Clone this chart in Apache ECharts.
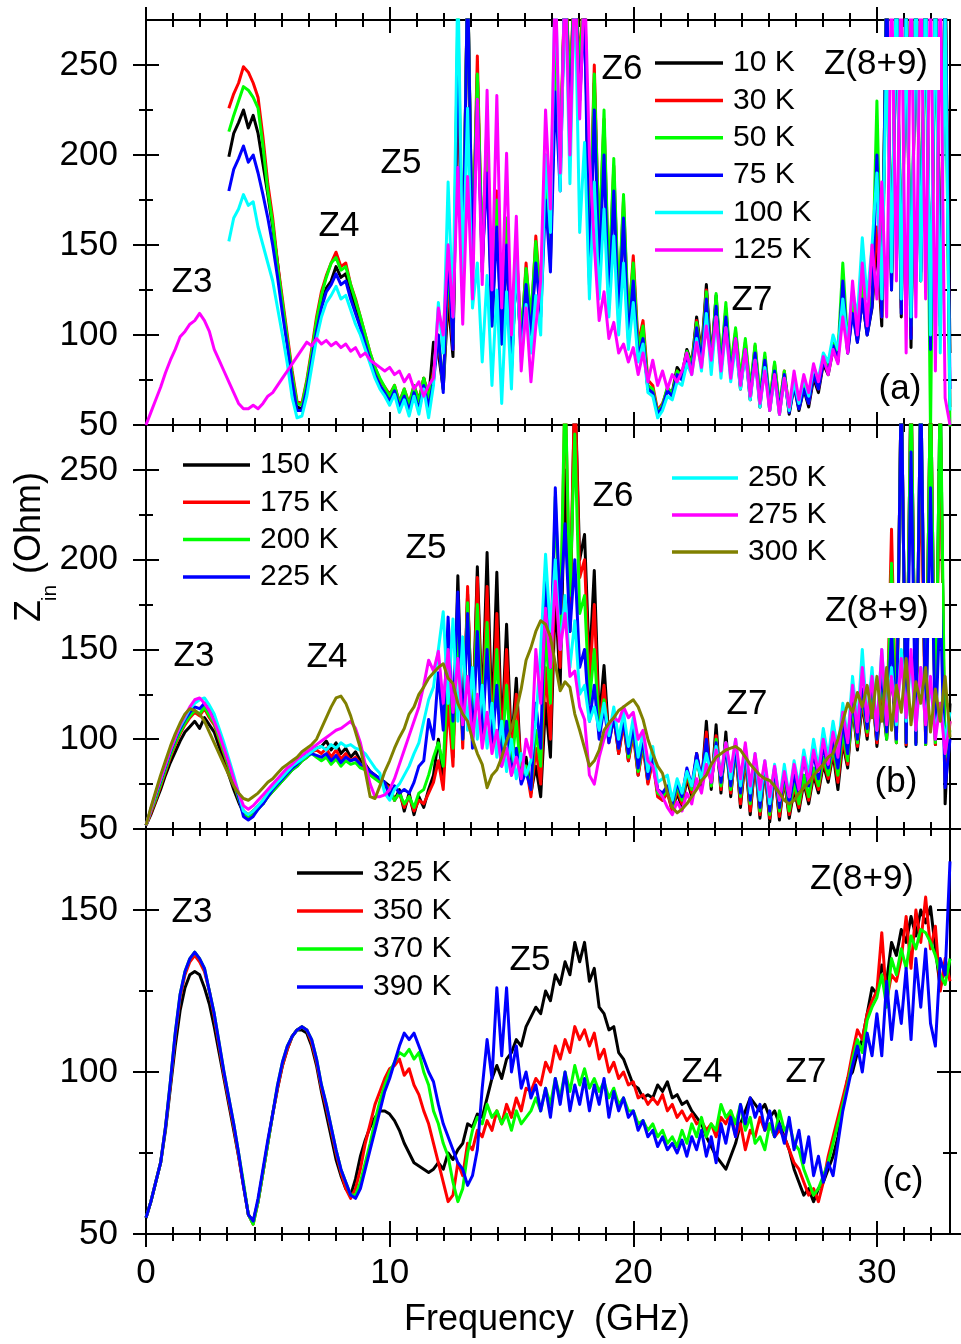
<!DOCTYPE html>
<html>
<head>
<meta charset="utf-8">
<script src="https://cdn.jsdelivr.net/npm/echarts@6/dist/echarts.min.js"></script>
<style>
  html, body { margin: 0; padding: 0; background: #ffffff; }
  #chart { width: 961px; height: 1344px; }
</style>
</head>
<body>
<div id="chart"></div>
<script>
// Input impedance Z_in (Ohm) versus frequency (GHz) at several temperatures.

// Frequency sampling (GHz), shared by every curve
const FREQ = [
  0,0.2,0.4,0.6,0.8,1,1.2,1.4,1.6,1.8,
  2,2.2,2.4,2.6,2.8,3,3.2,3.4,3.6,3.8,
  4,4.2,4.4,4.6,4.8,5,5.2,5.4,5.6,5.8,
  6,6.2,6.4,6.6,6.8,7,7.2,7.4,7.6,7.8,
  8,8.2,8.4,8.6,8.8,9,9.2,9.4,9.6,9.8,
  10,10.2,10.4,10.6,10.8,11,11.2,11.4,11.6,11.8,
  12,12.2,12.4,12.6,12.8,13,13.2,13.4,13.6,13.8,
  14,14.2,14.4,14.6,14.8,15,15.2,15.4,15.6,15.8,
  16,16.2,16.4,16.6,16.8,17,17.2,17.4,17.6,17.8,
  18,18.2,18.4,18.6,18.8,19,19.2,19.4,19.6,19.8,
  20,20.2,20.4,20.6,20.8,21,21.2,21.4,21.6,21.8,
  22,22.2,22.4,22.6,22.8,23,23.2,23.4,23.6,23.8,
  24,24.2,24.4,24.6,24.8,25,25.2,25.4,25.6,25.8,
  26,26.2,26.4,26.6,26.8,27,27.2,27.4,27.6,27.8,
  28,28.2,28.4,28.6,28.8,29,29.2,29.4,29.6,29.8,
  30,30.2,30.4,30.6,30.8,31,31.2,31.4,31.6,31.8,
  32,32.2,32.4,32.6,32.8,33
];

// ---- Panel (a): 10 K ... 125 K ----
const Z_10K = [
  null,null,null,null,null,null,null,null,null,null,
  null,null,null,null,null,null,null,199,212,218,
  225,215,222,212,195,178,160,140,116,96,
  76,60,59,70,88,104,118,126,130,138,
  132,134,124,116,106,96,86,78,72,67,
  64,70,61,68,60,70,62,76,64,96,
  90,70,120,88,250,125,300,135,245,135,
  210,105,170,95,150,80,140,90,130,100,
  145,115,190,140,255,190,300,230,300,240,
  300,132,240,140,210,118,185,110,165,100,
  135,90,100,70,68,56,60,70,68,82,
  78,92,84,110,90,128,86,122,80,112,
  78,98,70,92,64,90,60,86,58,80,
  56,78,56,72,58,70,60,76,68,84,
  78,92,85,126,90,115,96,120,100,115,
  150,105,290,125,300,110,300,93,300,130,
  300,89,300,110,300,90
];
const Z_30K = [
  null,null,null,null,null,null,null,null,null,null,
  null,null,null,null,null,null,null,226,234,240,
  249,246,240,232,210,184,165,140,120,100,
  80,63,62,75,92,110,124,133,140,146,
  138,140,128,120,110,100,90,82,75,71,
  67,72,63,70,62,72,64,76,66,80,
  95,72,130,92,260,130,300,140,255,140,
  220,110,180,100,160,85,150,95,140,105,
  155,120,200,150,265,200,300,240,300,250,
  300,140,250,150,220,125,194,115,175,105,
  144,95,108,75,72,58,62,70,66,80,
  76,90,82,108,88,125,84,120,82,115,
  80,102,74,96,68,94,64,88,62,84,
  60,80,58,74,60,72,62,78,70,86,
  80,95,88,130,92,118,100,125,105,120,
  160,110,300,130,300,115,280,100,300,140,
  300,95,300,120,300,60
];
const Z_50K = [
  null,null,null,null,null,null,null,null,null,null,
  null,null,null,null,null,null,null,213,222,230,
  238,236,232,226,205,180,162,138,118,98,
  78,62,61,74,90,108,122,132,140,143,
  136,138,128,119,110,100,90,82,76,71,
  66,72,62,70,61,72,63,76,65,78,
  100,70,140,95,280,135,300,145,245,150,
  210,115,175,105,165,88,146,100,137,110,
  152,118,195,148,260,196,300,235,300,245,
  300,138,245,150,225,128,198,118,178,108,
  140,92,105,72,70,57,61,71,67,80,
  77,91,83,107,87,124,83,123,84,118,
  82,104,76,98,70,95,66,90,63,85,
  60,80,58,74,60,72,63,80,72,88,
  82,98,90,140,95,120,102,128,108,122,
  230,115,300,135,300,118,300,105,300,150,
  300,45,300,100,300,45
];
const Z_75K = [
  null,null,null,null,null,null,null,null,null,null,
  null,null,null,null,null,null,null,180,192,198,
  205,196,200,190,178,165,150,132,112,94,
  74,58,58,70,86,102,115,124,128,134,
  128,130,120,112,104,95,86,78,72,68,
  63,69,60,66,58,68,58,72,60,74,
  100,68,150,92,270,130,300,140,230,140,
  190,105,160,95,150,82,138,92,128,100,
  140,110,175,135,235,180,300,215,300,230,
  280,128,225,135,200,115,180,108,165,98,
  130,88,98,70,68,56,60,69,66,78,
  75,88,80,104,85,120,82,116,80,110,
  78,98,72,92,66,90,62,86,60,80,
  58,78,57,72,59,70,62,78,70,85,
  80,94,86,130,90,112,96,120,100,116,
  200,110,300,125,300,112,290,98,300,135,
  300,92,300,105,300,70
];
const Z_100K = [
  null,null,null,null,null,null,null,null,null,null,
  null,null,null,null,null,null,null,152,165,170,
  178,172,174,160,150,140,130,115,100,84,
  65,54,55,66,82,98,110,118,122,127,
  120,122,114,106,100,92,84,76,70,66,
  61,67,57,64,55,66,56,70,54,72,
  118,90,185,110,300,130,226,115,140,85,
  133,72,125,62,124,70,144,85,117,90,
  122,100,200,157,300,180,300,184,300,157,
  207,120,185,120,170,110,155,100,140,92,
  118,85,95,68,66,54,58,66,64,74,
  72,84,78,98,80,112,78,110,76,104,
  74,94,70,90,64,86,60,82,58,76,
  56,76,58,74,62,76,66,82,76,90,
  85,100,92,120,96,125,110,154,120,150,
  190,120,260,135,300,120,280,110,300,130,
  300,100,300,90,280,58
];
const Z_125K = [
  50,57,64,71,79,86,92,99,102,106,
  108,112,108,102,92,86,80,74,68,62,
  59,59,61,59,62,66,68,72,76,80,
  84,88,92,96,94,98,95,97,94,96,
  93,95,91,93,88,90,86,84,82,80,
  82,78,80,74,78,70,74,66,72,76,
  115,100,150,110,193,106,188,120,231,128,
  236,125,233,115,201,100,166,80,115,74,
  105,130,225,170,300,190,300,200,300,220,
  300,200,150,108,124,98,107,90,95,85,
  93,78,90,74,86,72,80,70,78,74,
  80,90,78,96,82,105,86,110,80,104,
  76,98,72,92,66,86,62,80,58,78,
  56,76,60,80,64,78,68,84,74,88,
  78,92,84,110,90,130,100,140,105,150,
  120,185,110,300,130,300,90,300,110,300,
  120,300,80,300,65,50
];

// ---- Panel (b): 150 K ... 300 K ----
const Z_150K = [
  52,58,65,72,80,87,93,99,104,107,
  110,106,112,108,104,96,88,80,72,65,
  59,57,60,62,64,68,71,74,77,80,
  83,85,88,90,93,95,96,99,94,98,
  92,95,90,93,88,86,82,80,78,76,
  74,66,72,60,70,58,68,62,72,80,
  100,78,140,90,191,100,181,105,196,115,
  204,110,193,100,164,95,134,80,90,70,
  85,68,120,90,180,130,250,160,300,200,
  214,140,194,110,141,100,114,92,110,88,
  105,80,98,76,90,70,66,72,60,70,
  62,78,68,92,74,110,72,108,70,104,
  68,96,62,90,58,88,56,84,54,82,
  55,78,56,72,60,76,64,80,70,86,
  76,92,72,98,84,118,94,120,100,130,
  96,125,100,140,98,300,96,300,98,300,
  97,300,97,300,64,120
];
const Z_175K = [
  52,59,66,74,82,90,97,103,108,112,
  115,113,117,112,108,100,92,84,75,67,
  60,58,60,63,66,70,73,76,79,82,
  84,87,89,91,93,94,92,95,90,94,
  89,92,88,90,86,84,81,79,77,75,
  73,66,70,62,68,60,66,64,70,76,
  88,72,120,85,170,95,185,100,190,108,
  185,100,170,95,150,88,125,80,85,68,
  95,75,140,100,200,140,300,170,300,190,
  200,130,175,105,130,98,112,92,108,88,
  102,80,96,75,88,68,66,70,60,72,
  64,80,70,92,76,104,74,102,72,98,
  70,94,64,90,60,88,58,84,56,82,
  57,78,58,74,62,78,66,82,72,88,
  78,94,76,100,86,120,96,122,102,128,
  98,130,102,217,98,300,97,300,98,260,
  97,300,97,280,80,110
];
const Z_200K = [
  52,60,67,75,83,91,98,104,109,113,
  116,114,118,113,109,101,93,85,76,67,
  59,56,58,61,64,68,71,74,77,80,
  83,85,88,90,92,90,88,90,86,89,
  85,88,86,87,84,83,80,78,76,74,
  72,66,70,64,68,62,70,72,80,90,
  98,85,140,95,160,100,176,105,175,110,
  165,100,150,90,130,85,110,78,85,72,
  105,85,160,120,235,160,300,180,270,170,
  180,120,150,105,122,100,115,95,112,90,
  105,82,98,78,90,70,68,72,62,74,
  66,82,72,90,76,98,74,100,74,96,
  72,94,68,92,64,90,60,86,58,84,
  60,80,60,76,64,80,68,84,74,90,
  80,96,80,104,88,120,98,125,104,130,
  100,135,100,198,98,300,98,300,97,300,
  97,300,98,300,90,105
];
const Z_225K = [
  52,61,69,77,85,93,100,106,111,115,
  118,117,120,116,112,104,96,87,78,68,
  57,55,57,61,64,68,72,75,78,81,
  84,86,89,91,92,91,90,92,88,91,
  87,90,88,89,86,85,82,80,78,76,
  68,74,70,72,70,76,85,88,111,100,
  137,105,168,110,182,100,170,95,160,100,
  150,95,130,85,110,80,95,75,82,72,
  120,95,190,140,240,170,220,160,200,140,
  150,110,130,100,118,98,112,95,110,92,
  106,84,100,78,92,72,70,74,64,76,
  68,84,74,92,78,100,76,98,76,96,
  74,95,70,94,66,90,62,86,60,84,
  62,82,64,80,70,90,74,92,78,96,
  84,100,84,110,92,125,100,128,106,135,
  100,140,104,160,100,300,98,260,97,300,
  98,240,100,180,73,100
];
const Z_250K = [
  52,61,70,78,86,94,101,107,112,117,
  120,122,123,119,114,106,98,89,80,70,
  60,58,60,63,66,70,73,76,79,82,
  85,87,89,91,93,95,96,94,97,95,
  98,96,97,95,94,92,88,84,81,70,
  66,72,75,80,85,92,98,110,122,129,
  150,171,120,167,110,157,105,140,100,130,
  95,120,90,110,82,100,78,92,80,88,
  110,150,203,160,200,150,180,140,166,125,
  130,110,118,105,120,102,118,100,115,96,
  112,90,104,82,96,76,78,80,66,78,
  70,82,74,88,78,92,80,96,80,98,
  78,100,74,96,70,92,66,88,64,86,
  66,86,68,88,74,94,80,100,84,106,
  90,110,94,120,100,135,108,150,110,140,
  105,150,110,140,108,150,110,145,105,140,
  110,130,105,120,100,115
];
const Z_275K = [
  52,61,70,78,86,94,101,108,113,118,
  122,123,120,116,110,103,95,87,78,70,
  63,61,63,66,69,72,75,78,81,84,
  86,89,91,93,95,97,99,101,103,105,
  106,108,110,106,98,86,75,68,68,69,
  72,78,86,94,102,110,118,130,144,138,
  149,120,150,115,145,108,135,100,125,95,
  115,92,105,85,95,80,90,78,100,90,
  150,120,173,140,188,150,170,135,138,118,
  111,80,75,90,100,108,112,110,118,112,
  115,100,105,88,85,72,68,62,58,65,
  60,70,64,78,70,86,76,94,80,98,
  82,100,78,98,74,92,72,88,68,85,
  66,82,68,86,72,90,76,94,82,100,
  86,104,90,115,98,130,104,140,110,135,
  105,150,108,135,110,145,112,150,105,140,
  108,135,100,120,92,110
];
const Z_300K = [
  52,62,71,80,88,96,103,109,114,117,
  116,114,110,104,98,92,86,80,74,70,
  67,66,68,70,73,76,78,81,84,86,
  88,90,93,95,97,100,106,112,118,123,
  124,120,113,104,95,82,68,67,74,82,
  88,95,101,106,114,118,125,129,134,137,
  140,142,134,131,120,114,110,100,92,86,
  73,80,83,90,99,106,116,128,144,151,
  160,166,164,157,142,127,132,129,114,105,
  95,85,88,94,105,109,112,116,118,120,
  122,118,111,100,92,85,81,70,62,59,
  61,64,68,72,77,80,86,90,92,94,
  95,96,94,90,86,83,80,78,77,74,
  70,66,64,66,70,73,76,80,83,86,
  90,92,100,110,120,115,126,118,130,112,
  135,110,140,105,130,115,145,108,132,120,
  140,104,128,110,135,101
];

// ---- Panel (c): 325 K ... 390 K ----
const Z_325K = [
  55,60,66,72,82,95,108,119,126,130,
  131,130,126,121,114,106,98,90,82,74,
  65,56,54,60,69,78,87,95,102,107,
  111,113,113,112,108,102,94,87,80,73,
  68,64,62,67,74,79,83,86,88,88,
  87,85,82,78,75,72,71,70,69,70,
  72,70,75,73,76,78,84,83,87,86,
  92,98,102,98,104,106,110,108,114,117,
  120,118,125,122,130,127,134,130,140,134,
  140,128,132,120,118,113,114,106,104,100,
  96,95,92,93,92,96,94,97,92,93,
  90,91,88,86,84,80,77,74,72,70,
  74,78,84,88,92,90,88,90,86,88,
  84,80,76,70,66,62,64,60,64,66,
  70,74,80,90,98,100,106,110,118,126,
  124,133,128,140,136,144,140,148,142,150,
  146,151,138,126,132,133
];
const Z_350K = [
  55,60,66,72,83,96,111,123,130,134,
  136,134,131,125,117,108,99,91,83,74,
  65,56,53,60,69,78,87,95,102,107,
  111,113,114,113,109,103,95,89,82,75,
  69,64,61,64,70,78,84,90,94,98,
  101,102,104,99,101,96,93,88,84,78,
  72,66,60,62,72,68,78,76,82,80,
  85,82,88,84,90,86,92,88,95,94,
  98,96,103,100,108,104,110,106,114,110,
  113,108,112,104,107,100,103,98,100,96,
  97,92,93,90,92,90,93,88,90,86,
  88,85,87,84,85,82,84,80,86,84,
  88,80,84,76,82,80,86,82,84,80,
  82,80,76,72,70,66,62,64,60,66,
  74,80,86,92,98,106,113,110,118,122,
  125,143,122,130,128,135,148,132,150,140,
  154,138,145,125,135,128
];
const Z_370K = [
  55,60,66,72,83,97,112,124,131,135,
  137,135,132,125,118,109,100,92,84,75,
  66,56,53,60,69,78,87,96,103,108,
  111,113,114,113,110,104,96,90,83,76,
  70,66,62,62,66,72,78,85,91,96,
  100,103,106,105,107,104,106,100,96,88,
  84,78,74,66,60,64,75,82,86,84,
  90,86,88,84,87,82,88,84,86,88,
  92,88,95,90,98,92,100,94,102,96,
  101,95,98,94,97,92,95,90,92,88,
  88,84,85,82,84,80,82,78,80,77,
  82,78,84,80,86,80,84,82,90,86,
  88,84,90,82,86,78,80,76,84,80,
  88,82,84,78,76,70,66,62,64,68,
  72,78,84,90,96,104,110,106,116,120,
  123,130,120,135,130,138,132,142,138,144,
  143,140,136,130,127,135
];
const Z_390K = [
  55,60,66,72,83,97,112,124,131,135,
  137,135,132,125,118,109,100,92,84,75,
  65,56,54,61,70,79,87,96,103,108,
  111,113,114,113,110,104,96,90,83,76,
  70,66,62,61,64,70,76,82,88,94,
  98,103,108,112,110,112,108,104,100,97,
  90,84,80,76,72,70,65,68,76,95,
  110,98,126,105,126,100,108,95,100,92,
  96,88,95,86,98,90,100,88,96,90,
  98,88,96,90,98,86,94,88,92,86,
  88,82,85,80,82,77,80,76,78,75,
  79,74,80,76,82,74,80,72,84,78,
  86,80,90,84,92,86,90,82,88,80,
  84,78,86,76,82,72,80,68,74,66,
  72,68,78,88,95,102,108,100,112,105,
  118,105,128,110,125,115,132,110,135,120,
  138,115,108,135,130,165
];

// Legend labels and colours per panel
const TEMPS_A = ['10 K', '30 K', '50 K', '75 K', '100 K', '125 K'];
const TEMPS_B = ['150 K', '175 K', '200 K', '225 K', '250 K', '275 K', '300 K'];
const TEMPS_C = ['325 K', '350 K', '370 K', '390 K'];
const COLORS_A = ['#000000', '#ff0000', '#00ff00', '#0000ff', '#00ffff', '#ff00ff'];
const COLORS_B = ['#000000', '#ff0000', '#00ff00', '#0000ff', '#00ffff', '#ff00ff', '#808000'];
const COLORS_C = ['#000000', '#ff0000', '#00ff00', '#0000ff'];

// Axis ticks and labels
const X_TICKS = [0, 10, 20, 30];
const Y_TICKS_AB = [50, 100, 150, 200, 250];
const Y_MINOR_AB = [75, 125, 175, 225];
const Y_TICKS_C = [50, 100, 150];
const Y_MINOR_C = [75, 125];
// nine minor divisions between labelled frequency ticks
const X_MINOR = [];
for (let k = 1; k * 10 / 9 < 33; k++) { if (k % 9 !== 0) X_MINOR.push(+(k * 10 / 9).toFixed(4)); }

const FONT = "'Liberation Sans', Arial, Helvetica, sans-serif";

const PANELS = [
  { top: 20,  height: 405, yMax: 275, yTicks: Y_TICKS_AB, yMinor: Y_MINOR_AB,
    names: TEMPS_A, colors: COLORS_A, values: [Z_10K, Z_30K, Z_50K, Z_75K, Z_100K, Z_125K], xLabels: false },
  { top: 425, height: 404, yMax: 275, yTicks: Y_TICKS_AB, yMinor: Y_MINOR_AB,
    names: TEMPS_B, colors: COLORS_B, values: [Z_150K, Z_175K, Z_200K, Z_225K, Z_250K, Z_275K, Z_300K], xLabels: false },
  { top: 829, height: 405, yMax: 175, yTicks: Y_TICKS_C, yMinor: Y_MINOR_C,
    names: TEMPS_C, colors: COLORS_C, values: [Z_325K, Z_350K, Z_370K, Z_390K], xLabels: true }
];

const AXES_PER_GRID = 5;
const labelStyle = { fontSize: 35, fontFamily: FONT, color: '#000' };

// An axis that only draws ticks, shifted so each tick straddles the frame line
function tickAxis(gi, position, values, half, min, max) {
  return {
    type: 'value', gridIndex: gi, position: position, offset: -half, min: min, max: max,
    axisLine: { show: false, onZero: false }, splitLine: { show: false }, axisLabel: { show: false },
    axisTick: { show: true, inside: false, length: half * 2, customValues: values,
                lineStyle: { color: '#000', width: 2 } }
  };
}

const grids = [], xAxes = [], yAxes = [], series = [];
PANELS.forEach((p, gi) => {
  grids.push({ left: 146, width: 804, top: p.top, height: p.height, show: true,
               borderColor: '#000', borderWidth: 2, backgroundColor: 'transparent' });
  xAxes.push({
    type: 'value', gridIndex: gi, position: 'bottom', min: 0, max: 33,
    axisLine: { show: false, onZero: false }, axisTick: { show: false }, splitLine: { show: false },
    axisLabel: Object.assign({ show: p.xLabels, customValues: X_TICKS, margin: 22 }, labelStyle)
  });
  xAxes.push(tickAxis(gi, 'bottom', X_TICKS, 13, 0, 33));
  xAxes.push(tickAxis(gi, 'bottom', X_MINOR, 7, 0, 33));
  xAxes.push(tickAxis(gi, 'top', X_TICKS, 13, 0, 33));
  xAxes.push(tickAxis(gi, 'top', X_MINOR, 7, 0, 33));

  yAxes.push({
    type: 'value', gridIndex: gi, position: 'left', min: 50, max: p.yMax,
    axisLine: { show: false, onZero: false }, axisTick: { show: false }, splitLine: { show: false },
    axisLabel: Object.assign({ show: true, customValues: p.yTicks, margin: 28 }, labelStyle)
  });
  yAxes.push(tickAxis(gi, 'left', p.yTicks, 13, 50, p.yMax));
  yAxes.push(tickAxis(gi, 'left', p.yMinor, 7, 50, p.yMax));
  yAxes.push(tickAxis(gi, 'right', p.yTicks, 13, 50, p.yMax));
  yAxes.push(tickAxis(gi, 'right', p.yMinor, 7, 50, p.yMax));

  p.values.forEach((vals, si) => {
    series.push({
      type: 'line', name: p.names[si],
      xAxisIndex: gi * AXES_PER_GRID, yAxisIndex: gi * AXES_PER_GRID,
      data: FREQ.map((f, i) => [f, vals[i]]),
      symbol: 'none', clip: true, connectNulls: false,
      lineStyle: { color: p.colors[si], width: 3, join: 'round' },
      itemStyle: { color: p.colors[si] }
    });
  });
});

// Text helpers for overlay labels
function text(str, x, y, size, extra) {
  return Object.assign({
    type: 'text', x: x, y: y, z: 100, silent: true,
    style: { text: str, x: 0, y: 0, fontSize: size, fontFamily: FONT, fill: '#000',
             align: 'center', verticalAlign: 'middle',
             textAlign: 'center', textVerticalAlign: 'middle' }
  }, extra || {});
}
function whiteBox(x, y, w, h) {
  return { type: 'rect', z: 99, silent: true, shape: { x: x, y: y, width: w, height: h },
           style: { fill: '#ffffff' } };
}
function legend(names, colors, x1, x2, tx, y0, step) {
  const els = [];
  names.forEach((n, i) => {
    const y = y0 + i * step;
    els.push({ type: 'line', z: 100, silent: true, shape: { x1: x1, y1: y, x2: x2, y2: y },
               style: { stroke: colors[i], lineWidth: 3.5 } });
    els.push({ type: 'text', z: 100, silent: true, x: tx, y: y,
               style: { text: n, x: 0, y: 0, fontSize: 30, fontFamily: FONT, fill: '#000',
                        align: 'left', verticalAlign: 'middle',
                        textAlign: 'left', textVerticalAlign: 'middle' } });
  });
  return els;
}

const graphics = [].concat(
  // panel (a)
  [text('Z3', 192, 282, 35), text('Z4', 339, 226, 35), text('Z5', 401, 163, 35),
   text('Z6', 622, 69, 35), text('Z7', 752, 300, 35),
   whiteBox(818, 37, 122, 53), text('Z(8+9)', 876, 64, 35), text('(a)', 900, 389, 35)],
  legend(TEMPS_A, COLORS_A, 655, 723, 733, 63, 37.4),
  // panel (b)
  [text('Z3', 194, 656, 35), text('Z4', 327, 657, 35), text('Z5', 426, 548, 35),
   text('Z6', 613, 496, 35), text('Z7', 747, 704, 35),
   whiteBox(820, 583, 122, 55), text('Z(8+9)', 877, 611, 35), text('(b)', 896, 782, 35)],
  legend(TEMPS_B.slice(0, 4), COLORS_B.slice(0, 4), 183, 250, 260, 465, 37.3),
  legend(TEMPS_B.slice(4), COLORS_B.slice(4), 672, 738, 748, 478, 37),
  // panel (c)
  [text('Z3', 192, 912, 35), text('Z5', 530, 960, 35), text('Z4', 702, 1072, 35),
   text('Z7', 806, 1072, 35), text('Z(8+9)', 862, 879, 35), text('(c)', 903, 1181, 35)],
  legend(TEMPS_C, COLORS_C, 297, 363, 373, 873, 38),
  // axis titles
  [text('Frequency  (GHz)', 547, 1320, 36),
   text('(Ohm)', 30, 523, 36, { rotation: Math.PI / 2 }),
   text('Z', 30, 611, 36, { rotation: Math.PI / 2 }),
   text('in', 50, 593, 21, { rotation: Math.PI / 2 })]
);

const chart = echarts.init(document.getElementById('chart'), null, { renderer: 'canvas' });
chart.setOption({
  backgroundColor: '#ffffff',
  animation: false,
  grid: grids,
  xAxis: xAxes,
  yAxis: yAxes,
  series: series,
  graphic: { elements: graphics }
});
</script>
</body>
</html>
